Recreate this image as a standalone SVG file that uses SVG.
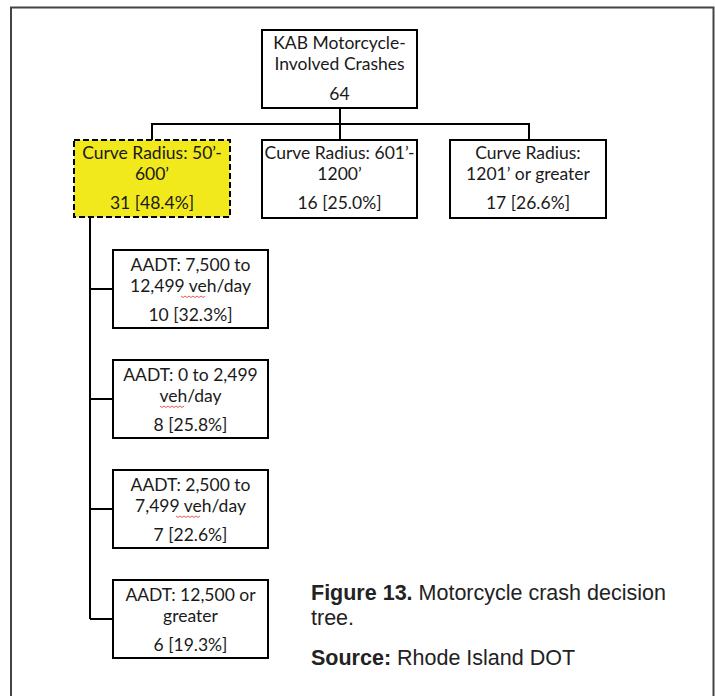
<svg xmlns="http://www.w3.org/2000/svg" width="715" height="696" viewBox="0 0 715 696">
<style>
.box{fill:#fff;stroke:#000;stroke-width:2}
.hl{fill:#F1E91B;stroke:#000;stroke-width:2;stroke-dasharray:6 3}
.t{font-family:Lato,"Liberation Sans",sans-serif;font-size:17.5px;fill:#1a1a1a;text-anchor:middle}
.ln{fill:none;stroke:#000;stroke-width:2}
.sq{fill:none;stroke:#e03030;stroke-width:0.8}
.cap{font-family:"Liberation Sans",Arial,sans-serif;font-size:21.5px;fill:#222}
</style>
<rect width="715" height="696" fill="#fff"/>
<path d="M11,696 V7.5 H713.5 V696" fill="none" stroke="#444" stroke-width="2"/>
<g id="connectors">
<path class="ln" d="M340,108 V124 M152,140 V124 H529 V140 M340,124 V140"/>
<path class="ln" d="M90,217 V619 M90,289 H113 M90,399 H113 M90,509 H113 M90,619 H113"/>
</g>
<g id="root">
<rect class="box" x="262" y="30" width="155" height="78"/>
<text class="t" x="339.5" y="49">KAB Motorcycle-</text>
<text class="t" x="339.5" y="70">Involved Crashes</text>
<text class="t" x="339.5" y="100">64</text>
</g>
<g id="radius-50-600">
<rect class="hl" x="74" y="140" width="156" height="77"/>
<text class="t" x="152" y="159">Curve Radius: 50’-</text>
<text class="t" x="152" y="180">600’</text>
<text class="t" x="152" y="209">31 [48.4%]</text>
</g>
<g id="radius-601-1200">
<rect class="box" x="262" y="140" width="155" height="78"/>
<text class="t" x="339.5" y="159">Curve Radius: 601’-</text>
<text class="t" x="339.5" y="180">1200’</text>
<text class="t" x="339.5" y="209">16 [25.0%]</text>
</g>
<g id="radius-1201">
<rect class="box" x="450" y="140" width="156" height="78"/>
<text class="t" x="528" y="159">Curve Radius:</text>
<text class="t" x="528" y="180">1201’ or greater</text>
<text class="t" x="528" y="209">17 [26.6%]</text>
</g>
<g id="aadt-7500">
<rect class="box" x="113" y="250" width="155" height="78"/>
<text class="t" x="190.5" y="271">AADT: 7,500 to</text>
<text class="t" x="190.5" y="292">12,499 veh/day</text>
<text class="t" x="190.5" y="321">10 [32.3%]</text>
<path class="sq" d="M181,296 l2,1.5 2,-1.5 2,1.5 2,-1.5 2,1.5 2,-1.5 2,1.5 2,-1.5 2,1.5 2,-1.5 2,1.5 2,-1.5"/>
</g>
<g id="aadt-0">
<rect class="box" x="113" y="360" width="155" height="78"/>
<text class="t" x="190.5" y="381">AADT: 0 to 2,499</text>
<text class="t" x="190.5" y="402">veh/day</text>
<text class="t" x="190.5" y="431">8 [25.8%]</text>
<path class="sq" d="M160,406 l2,1.5 2,-1.5 2,1.5 2,-1.5 2,1.5 2,-1.5 2,1.5 2,-1.5 2,1.5 2,-1.5 2,1.5 2,-1.5"/>
</g>
<g id="aadt-2500">
<rect class="box" x="113" y="470" width="155" height="78"/>
<text class="t" x="190.5" y="491">AADT: 2,500 to</text>
<text class="t" x="190.5" y="512">7,499 veh/day</text>
<text class="t" x="190.5" y="541">7 [22.6%]</text>
<path class="sq" d="M176,516 l2,1.5 2,-1.5 2,1.5 2,-1.5 2,1.5 2,-1.5 2,1.5 2,-1.5 2,1.5 2,-1.5 2,1.5 2,-1.5"/>
</g>
<g id="aadt-12500">
<rect class="box" x="113" y="580" width="155" height="78"/>
<text class="t" x="190.5" y="601">AADT: 12,500 or</text>
<text class="t" x="190.5" y="622">greater</text>
<text class="t" x="190.5" y="651">6 [19.3%]</text>
</g>
<g id="caption">
<text class="cap" x="311" y="600"><tspan font-weight="bold">Figure 13.</tspan> Motorcycle crash decision</text>
<text class="cap" x="311" y="625">tree.</text>
<text class="cap" x="311" y="665"><tspan font-weight="bold">Source:</tspan> Rhode Island DOT</text>
</g>
</svg>
